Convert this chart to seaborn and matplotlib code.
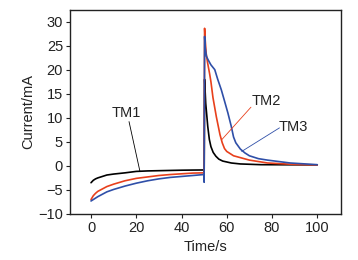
import pandas as pd
import numpy as np
import seaborn as sns
import matplotlib.pyplot as plt

# chronoamperometry traces
t_tm1 = [0, 1, 2, 3, 5, 7, 10, 15, 20, 25, 30, 35, 40, 45, 49.9,
         50.0, 50.2, 50.7, 51.6, 52.3, 53, 54, 55.2, 56.5, 58.2, 62, 66, 75, 100]
i_tm1 = [-3.5, -3.0, -2.7, -2.5, -2.2, -1.9, -1.7, -1.45, -1.15, -1.05, -1.0, -0.95, -0.9, -0.87, -0.85,
         -2.5, 18, 13, 8.2, 5.5, 4.0, 2.8, 2.0, 1.4, 1.0, 0.6, 0.4, 0.25, 0.2]

t_tm2 = [0, 1, 2, 3, 5, 7, 10, 15, 20, 25, 30, 35, 40, 45, 49.9,
         50.0, 50.2, 50.5, 50.9, 51.5, 52.4, 53, 53.9, 55.4, 57, 58, 59, 60, 63, 70, 78, 90, 100]
i_tm2 = [-7.0, -6.2, -5.7, -5.3, -4.8, -4.3, -3.8, -3.1, -2.6, -2.3, -2.0, -1.8, -1.65, -1.5, -1.45,
         -3.0, 28.6, 26, 23.4, 21.5, 19.2, 17.5, 14.2, 10.2, 6.5, 4.8, 3.6, 3.0, 2.1, 1.2, 0.6, 0.3, 0.2]

t_tm3 = [0, 1, 2, 3, 5, 7, 10, 15, 20, 25, 30, 35, 40, 45, 49.9,
         50.0, 50.2, 50.5, 51, 51.7, 53, 54.7, 56, 57.6, 59, 60.5, 62, 63, 64, 66, 68, 70, 74, 78, 88, 100]
i_tm3 = [-7.3, -7.0, -6.7, -6.4, -5.9, -5.4, -4.9, -4.2, -3.6, -3.1, -2.7, -2.4, -2.2, -2.0, -1.8,
         -3.4, 26.9, 24.5, 22.8, 22.1, 21, 20, 18, 15.8, 13.5, 11.0, 8.2, 6.0, 4.8, 3.5, 2.7, 2.1, 1.5, 1.2, 0.6, 0.25]

names = ['TM1', 'TM2', 'TM3']
colors = {'TM1': 'black', 'TM2': '#e8401c', 'TM3': '#2f4fa8'}

frames = []
for name, t, i in zip(names, [t_tm1, t_tm2, t_tm3], [i_tm1, i_tm2, i_tm3]):
    frames.append(pd.DataFrame({'Time/s': t, 'Current/mA': i, 'name': name}))
data = pd.concat(frames, ignore_index=True)

sns.set_style("ticks")
plt.rcParams['font.family'] = ['Liberation Sans', 'DejaVu Sans']

fig = plt.figure(figsize=(3.58, 2.6), dpi=100)
ax = fig.add_axes([0.1955, 0.177, 0.757, 0.7845])

for name in names:
    sns.lineplot(x='Time/s', y='Current/mA', data=data[data['name'] == name],
                 sort=False, estimator=None, color=colors[name], linewidth=1.2, ax=ax)

# labels + leader lines
FS = 10.5
ax.text(15.5, 11, 'TM1', ha='center', va='center', fontsize=FS, color='#222222')
ax.text(77.6, 13.4, 'TM2', ha='center', va='center', fontsize=FS, color='#222222')
ax.text(89.3, 8.0, 'TM3', ha='center', va='center', fontsize=FS, color='#222222')
ax.annotate('', xy=(21.6, -1.1), xytext=(16.8, 9.2),
            arrowprops=dict(arrowstyle='-', color='black', lw=0.6, shrinkA=0, shrinkB=0))
ax.annotate('', xy=(57.7, 5.4), xytext=(70.7, 12.2),
            arrowprops=dict(arrowstyle='-', color='#e8401c', lw=0.6, shrinkA=0, shrinkB=0))
ax.annotate('', xy=(66.6, 3.0), xytext=(83.3, 7.9),
            arrowprops=dict(arrowstyle='-', color='#2f4fa8', lw=0.6, shrinkA=0, shrinkB=0))

ax.set_xlim(-9.3, 110.5)
ax.set_ylim(-10, 32.4)
ax.set_xticks(np.arange(0, 101, 20))
ax.set_yticks(np.arange(-10, 31, 5))
ax.tick_params(direction='out', length=3, width=0.8, colors='#222222', labelsize=FS, pad=2)
for s in ax.spines.values():
    s.set_linewidth(1.0)
    s.set_color('#222222')
ax.set_xlabel('Time/s', fontsize=FS, labelpad=4, color='#222222')
ax.set_ylabel('Current/mA', fontsize=FS, labelpad=2, color='#222222')

plt.savefig("out.png", dpi=100)
plt.close()
